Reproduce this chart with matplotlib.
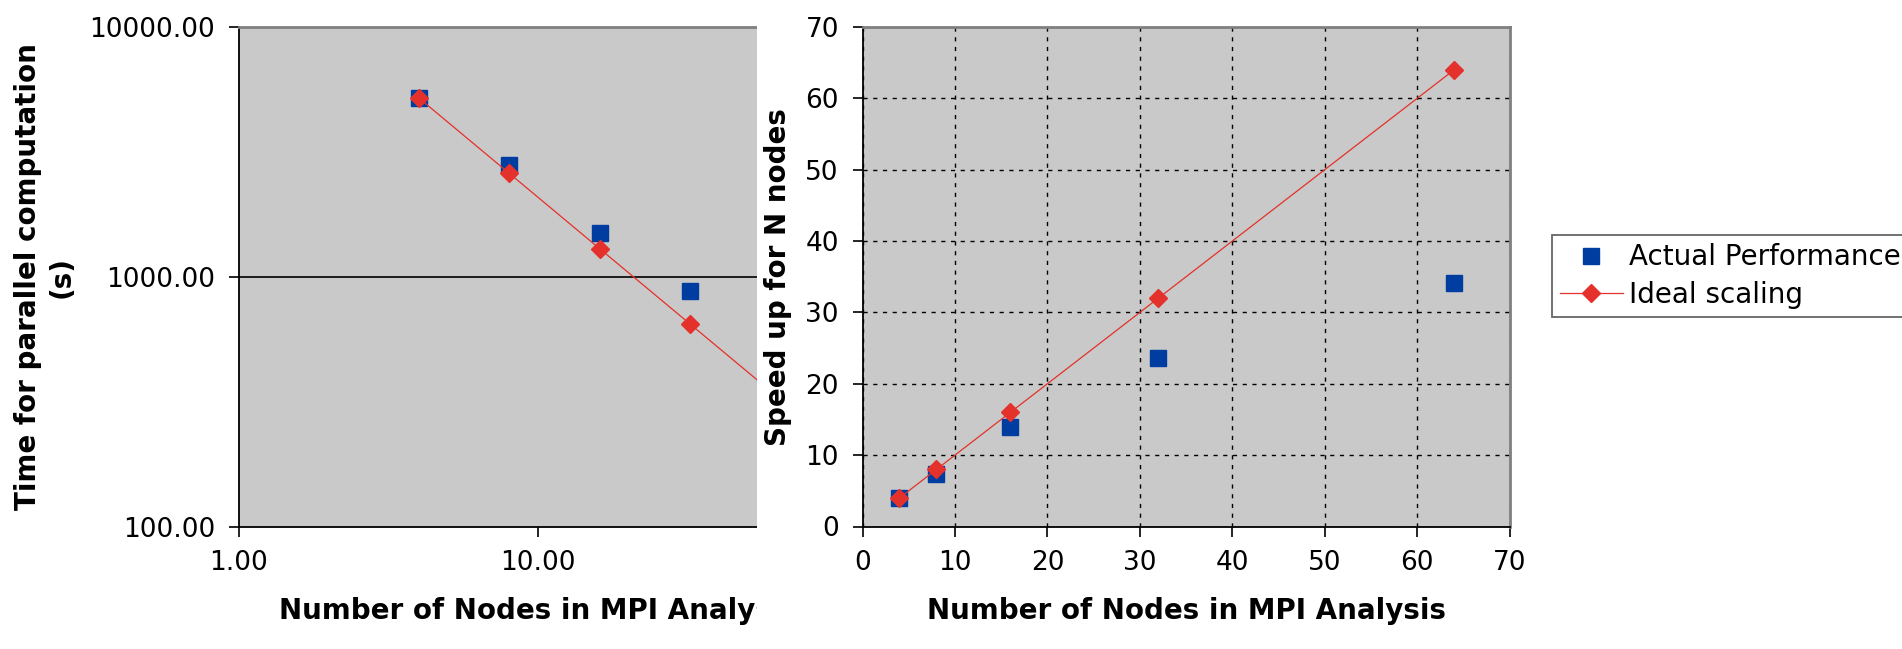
import matplotlib
matplotlib.use("Agg")
import matplotlib.pyplot as plt
from matplotlib.patches import Rectangle
from matplotlib.ticker import FormatStrFormatter

nodes        = [4, 8, 16, 32, 64]
time_actual  = [5200, 2810, 1500, 880, 610]     # s
time_ideal   = [5200, 2600, 1300, 650, 325]     # s
speed_actual = [4.0, 7.4, 13.9, 23.6, 34.1]
speed_ideal  = [4, 8, 16, 32, 64]

BLUE = "#003DA0"
RED  = "#E4312B"
BG   = "#C9C9C9"

plt.rcParams["font.family"] = "DejaVu Sans"

W, H = 1902, 649
fig = plt.figure(figsize=(W / 100, H / 100), dpi=100)

def px(x0, x1, y0, y1):
    # pixel box (top-left origin) -> figure fraction
    return [x0 / W, 1 - y1 / H, (x1 - x0) / W, (y1 - y0) / H]

ax1 = fig.add_axes(px(238.7, 838, 27.3, 526.7), zorder=0)
ax2 = fig.add_axes(px(862.5, 1509.6, 27.0, 526.5), zorder=2)

def style(ax):
    ax.set_facecolor(BG)
    for s in ("left", "bottom"):
        ax.spines[s].set_color("black")
        ax.spines[s].set_linewidth(1.3)
    for s in ("top", "right"):
        ax.spines[s].set_color("#808080")
        ax.spines[s].set_linewidth(2)
    ax.tick_params(direction="out", length=7, width=1.2, labelsize=19, pad=10)

# --- left: time, log-log ---
style(ax1)
ax1.set_xscale("log")
ax1.set_yscale("log")
ax1.set_xlim(1, 100)
ax1.set_ylim(100, 10000)
ax1.set_xticks([1, 10])
ax1.set_yticks([100, 1000, 10000])
ax1.minorticks_off()
ax1.xaxis.set_major_formatter(FormatStrFormatter("%.2f"))
ax1.yaxis.set_major_formatter(FormatStrFormatter("%.2f"))
ax1.axhline(1000, color="black", lw=1.2, zorder=1)
ax1.plot(nodes, time_actual, ls="none", marker="s", ms=12, color=BLUE, zorder=3)
ax1.plot(nodes, time_ideal, color=RED, lw=0.9, marker="D", ms=9, zorder=4)
ax1.set_xlabel("Number of Nodes in MPI Analysis", fontsize=20, fontweight="bold")
ax1.set_ylabel("Time for parallel computation\n(s)", fontsize=20, fontweight="bold",
               linespacing=1.25)
ax1.xaxis.set_label_coords(0.5, -0.141)
ax1.yaxis.set_label_coords(-0.2715, 0.5)

# left chart is cut off where the right one begins
fig.add_artist(Rectangle((757 / W, 0), 1, 1, transform=fig.transFigure,
                         facecolor="white", edgecolor="none", zorder=1))

# --- right: speed-up ---
style(ax2)
ax2.set_xlim(0, 70)
ax2.set_ylim(0, 70)
ax2.set_xticks(range(0, 71, 10))
ax2.set_yticks(range(0, 71, 10))
ax2.grid(True, color="black", lw=1, ls=(0, (3, 4)))
ax2.set_axisbelow(True)
h1, = ax2.plot(nodes, speed_actual, ls="none", marker="s", ms=12, color=BLUE, zorder=3)
h2, = ax2.plot(nodes, speed_ideal, color=RED, lw=0.9, marker="D", ms=9, zorder=4)
ax2.set_xlabel("Number of Nodes in MPI Analysis", fontsize=20, fontweight="bold")
ax2.set_ylabel("Speed up for N nodes", fontsize=20, fontweight="bold")
ax2.xaxis.set_label_coords(0.5, -0.141)
ax2.yaxis.set_label_coords(-0.109, 0.5)

leg = fig.legend([h1, h2], ["Actual Performance", "Ideal scaling"],
                 loc="upper left", bbox_to_anchor=(1551.7 / W, 1 - 235 / H),
                 borderaxespad=0, fontsize=20, fancybox=False, framealpha=1,
                 edgecolor="#666666", handlelength=2.25, handletextpad=0.25,
                 borderpad=0.3, labelspacing=0.35, numpoints=1)
leg.get_frame().set_linewidth(1.3)

fig.savefig("out.png", dpi=100)
